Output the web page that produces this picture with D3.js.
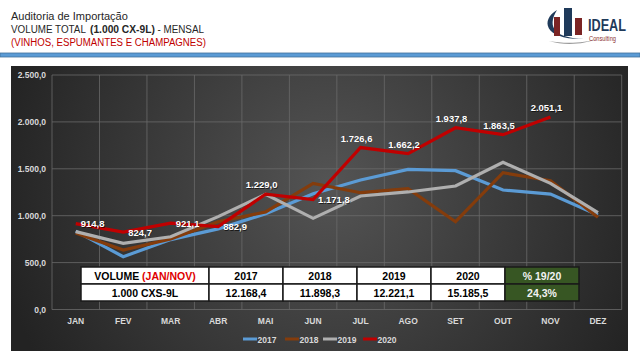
<!DOCTYPE html>
<html><head><meta charset="utf-8">
<script src="https://cdn.jsdelivr.net/npm/d3@7"></script>
<style>html,body{margin:0;padding:0;background:#fff;}svg{display:block;}</style>
</head><body>
<svg id="c" width="640" height="360"></svg>
<script>
const months = ["JAN","FEV","MAR","ABR","MAI","JUN","JUL","AGO","SET","OUT","NOV","DEZ"];
const v2017 = [835, 563, 745, 860, 1020, 1235, 1380, 1494, 1480, 1274, 1231, 1007];
const v2018 = [815, 634, 752, 936, 1040, 1345, 1245, 1288, 936, 1458, 1373, 983];
const v2019 = [830, 706, 776, 990, 1228, 972, 1210, 1253, 1317, 1569, 1345, 1032];
const v2020 = [914.8, 824.7, 921.1, 882.9, 1229.0, 1171.8, 1726.6, 1662.2, 1937.8, 1863.5, 2051.1];
const seriesNames = ["2017","2018","2019","2020"];
const yTicks = [0, 500, 1000, 1500, 2000, 2500];
const labelPos = ["right","right","right","right","above","right","above","above","above","above","above"];
const tableHead = ["VOLUME (JAN/NOV)","2017","2018","2019","2020","% 19/20"];
const tableRow = ["1.000 CXS-9L","12.168,4","11.898,3","12.221,1","15.185,5","24,3%"];

const colors = {"2017":"#5b9bd5","2018":"#843c0c","2019":"#afafaf","2020":"#c00000"};
const svg = d3.select("#c");
const FONT = "'Liberation Sans', Arial, sans-serif";
const fmt = v => {
  const s = v.toFixed(1).split(".");
  return s[0].replace(/\B(?=(\d{3})+(?!\d))/g, ".") + "," + s[1];
};

// header: condense each piece horizontally to its target width
function hText(x, yy, w, txt, fill, weight) {
  const t = svg.append("text").attr("x",0).attr("y",0).attr("font-family",FONT).attr("font-size",11.5)
    .attr("fill",fill).attr("font-weight",weight||"normal").text(txt);
  const nat = t.node().getComputedTextLength();
  t.attr("transform", `translate(${x},${yy}) scale(${w/nat},1)`);
}
hText(11, 19.5, 117, "Auditoria de Importação", "#262626");
hText(11, 33, 75, "VOLUME TOTAL", "#262626");
hText(90, 33, 65, "(1.000 CX-9L)", "#262626", "bold");
hText(157.5, 33, 46.5, "- MENSAL", "#262626");
hText(11, 46, 195, "(VINHOS, ESPUMANTES E CHAMPAGNES)", "#c00000");

// logo
const logo = svg.append("g");
logo.append("path").attr("d","M557,10 C540,20 544,40 584,39 C556,38 546,28 557,10 Z").attr("fill","#1f3a5a");
logo.append("rect").attr("x",554).attr("y",17).attr("width",6).attr("height",19).attr("fill","#7b2424");
logo.append("rect").attr("x",564).attr("y",8).attr("width",8).attr("height",28).attr("fill","#1f3a5a");
logo.append("rect").attr("x",575).attr("y",18).attr("width",7).attr("height",17).attr("fill","#7b2424");
logo.append("path").attr("d","M549,41 C565,44 585,43 597,39 C585,44 565,46 549,41 Z").attr("fill","#999");
logo.append("text").attr("x",588).attr("y",31).attr("font-family",FONT).attr("font-weight","bold").attr("font-size",16)
  .attr("fill","#1f3a5a").attr("textLength",38).attr("lengthAdjust","spacingAndGlyphs").text("IDEAL");
logo.append("text").attr("x",589).attr("y",41).attr("font-family",FONT).attr("font-size",6.5).attr("fill","#8b3030")
  .attr("textLength",27).attr("lengthAdjust","spacingAndGlyphs").text("Consulting");

// blue band
svg.append("rect").attr("x",0).attr("y",53).attr("width",640).attr("height",4).attr("fill","#5b9bd5").attr("stroke","#41719c").attr("stroke-width",0.8);

// background gradient
const defs = svg.append("defs");
const rg = defs.append("radialGradient").attr("id","bg").attr("gradientUnits","userSpaceOnUse")
  .attr("cx",330).attr("cy",185).attr("r",340);
rg.append("stop").attr("offset","0%").attr("stop-color","#545454");
rg.append("stop").attr("offset","100%").attr("stop-color","#232323");
svg.append("rect").attr("x",11).attr("y",66).attr("width",617).attr("height",285).attr("fill","url(#bg)");

// scales
const x = d3.scaleBand().domain(months).range([52, 621.7]).padding(0);
const y = d3.scaleLinear().domain([0, 2500]).range([309.5, 75]);
const cx = m => x(m) + x.bandwidth()/2;

// gridlines
const grid = svg.append("g");
grid.selectAll("line.h").data(yTicks).join("line")
  .attr("x1",52).attr("x2",621.7).attr("y1",d=>y(d)).attr("y2",d=>y(d))
  .attr("stroke","#6a6a6a").attr("stroke-width",0.8);
grid.selectAll("line.v").data(months.concat(["_end"])).join("line")
  .attr("x1",(d,i)=>52 + i*x.bandwidth()).attr("x2",(d,i)=>52 + i*x.bandwidth())
  .attr("y1",y(2500)).attr("y2",y(0)).attr("stroke","#6a6a6a").attr("stroke-width",0.8);

// y axis
const yAxis = d3.axisLeft(y).tickValues(yTicks).tickSize(0).tickPadding(6).tickFormat(fmt);
const ya = svg.append("g").attr("transform","translate(52,0)").call(yAxis);
ya.select(".domain").remove();
ya.selectAll("text").attr("font-family",FONT).attr("font-weight","bold").attr("font-size",8.5).attr("fill","#d9d9d9");

// x axis
const xAxis = d3.axisBottom(x).tickSize(0).tickPadding(8);
const xa = svg.append("g").attr("transform","translate(0,309.5)").call(xAxis);
xa.select(".domain").remove();
xa.selectAll("text").attr("font-family",FONT).attr("font-weight","bold").attr("font-size",8.5).attr("fill","#d9d9d9");

// table
const colX = [81, 209, 283, 357, 431, 505, 579];
const rowY = [267, 284, 301];
const tbl = svg.append("g");
[tableHead, tableRow].forEach((row, r) => {
  row.forEach((txt, c) => {
    const green = c === 5;
    tbl.append("rect").attr("x",colX[c]).attr("y",rowY[r]).attr("width",colX[c+1]-colX[c]).attr("height",rowY[r+1]-rowY[r])
      .attr("fill", green ? "#375623" : "#ffffff").attr("stroke","#1a1a1a").attr("stroke-width",1.5);
    const t = tbl.append("text").attr("x",(colX[c]+colX[c+1])/2).attr("y",(rowY[r]+rowY[r+1])/2 + 4)
      .attr("text-anchor","middle").attr("font-family",FONT).attr("font-weight","bold").attr("font-size",10.5)
      .attr("fill", green ? "#f2f2f2" : "#000");
    if (r === 0 && c === 0) {
      const parts = txt.split(" ");
      t.append("tspan").text(parts[0] + " ");
      t.append("tspan").attr("fill","#e00000").text(parts.slice(1).join(" "));
    } else {
      t.text(txt);
    }
  });
});

// lines
const allSeries = [v2017, v2018, v2019, v2020];
const line = d3.line().x((d,i)=>cx(months[i])).y(d=>y(d));
allSeries.forEach((vals, k) => {
  svg.append("path").datum(vals).attr("d", line).attr("fill","none")
    .attr("stroke", colors[seriesNames[k]]).attr("stroke-width",3.2).attr("stroke-linejoin","miter");
});

// data labels 2020
const lbl = svg.append("g");
v2020.forEach((v, i) => {
  const px = cx(months[i]), py = y(v);
  const right = labelPos[i] === "right";
  const tx = right ? px + 5 : px - 4;
  const ty = right ? py + 3.5 : py - 6;
  const anchor = right ? "start" : "middle";
  lbl.append("text").attr("x",tx+0.7).attr("y",ty+0.7).attr("text-anchor",anchor)
    .attr("font-family",FONT).attr("font-weight","bold").attr("font-size",9.5).attr("fill","#000").attr("opacity",0.6).text(fmt(v));
  lbl.append("text").attr("x",tx).attr("y",ty).attr("text-anchor",anchor)
    .attr("font-family",FONT).attr("font-weight","bold").attr("font-size",9.5).attr("fill","#ffffff").text(fmt(v));
});

// legend
const legX = [243, 285, 323, 363];
const leg = svg.append("g");
seriesNames.forEach((s, i) => {
  leg.append("line").attr("x1",legX[i]).attr("x2",legX[i]+14).attr("y1",339).attr("y2",339)
    .attr("stroke",colors[s]).attr("stroke-width",3);
  leg.append("text").attr("x",legX[i]+14.5).attr("y",342.5).attr("font-family",FONT).attr("font-weight","bold")
    .attr("font-size",8.5).attr("fill","#d9d9d9").text(s);
});
</script>
</body></html>
